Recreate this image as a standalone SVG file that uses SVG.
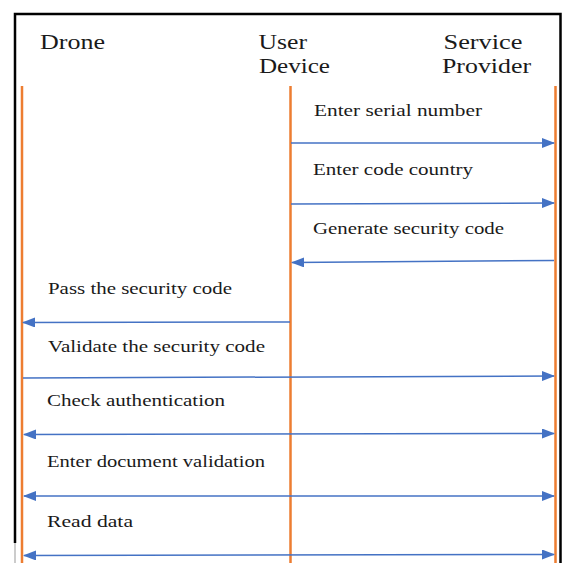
<svg xmlns="http://www.w3.org/2000/svg" width="563" height="563" viewBox="0 0 563 563">
<style>
.hdr{font-family:"Liberation Serif","Times New Roman",serif;font-size:20px;fill:#1a1a1a}
.lbl{font-family:"Liberation Serif","Times New Roman",serif;font-size:16px;fill:#1a1a1a}
.life{stroke:#ED7D31;stroke-width:2.5;fill:none}
.msg{stroke:#4472C4;stroke-width:1.5;fill:none}
</style>
<defs>
<marker id="ah" viewBox="0 0 13 10" refX="12" refY="5" markerWidth="13" markerHeight="10" orient="auto-start-reverse" markerUnits="userSpaceOnUse">
<path d="M0,0 L13,5 L0,10 Z" fill="#4472C4"/>
</marker>
</defs>
<rect width="563" height="563" fill="#ffffff"/>
<path d="M15,543 V14 H560.5 V563" fill="none" stroke="#000" stroke-width="2.5"/>
<line x1="15" y1="543" x2="15" y2="563" stroke="#999" stroke-width="1"/>

<g id="drone">
<text class="hdr" x="40" y="49" textLength="65" lengthAdjust="spacingAndGlyphs">Drone</text>
<line class="life" x1="22" y1="86" x2="22" y2="563"/>
</g>
<g id="user-device">
<text class="hdr" x="258.5" y="49" textLength="48.5" lengthAdjust="spacingAndGlyphs">User</text>
<text class="hdr" x="259" y="73" textLength="71" lengthAdjust="spacingAndGlyphs">Device</text>
<line class="life" x1="290.5" y1="86" x2="290.5" y2="563"/>
</g>
<g id="service-provider">
<text class="hdr" x="443.5" y="49" textLength="79" lengthAdjust="spacingAndGlyphs">Service</text>
<text class="hdr" x="442" y="73" textLength="89" lengthAdjust="spacingAndGlyphs">Provider</text>
<line class="life" x1="555.5" y1="86" x2="555.5" y2="563"/>
</g>

<g id="connectors">
<line class="msg" x1="291" y1="143" x2="554" y2="143" marker-end="url(#ah)"/>
<line class="msg" x1="291" y1="204" x2="554" y2="203" marker-end="url(#ah)"/>
<line class="msg" x1="554" y1="260.5" x2="292" y2="262.5" marker-end="url(#ah)"/>
<line class="msg" x1="290" y1="322" x2="23" y2="322.5" marker-end="url(#ah)"/>
<line class="msg" x1="23" y1="378" x2="554" y2="376" marker-end="url(#ah)"/>
<line class="msg" x1="24" y1="434.5" x2="554" y2="433.5" marker-start="url(#ah)" marker-end="url(#ah)"/>
<line class="msg" x1="24" y1="496" x2="554" y2="496" marker-start="url(#ah)" marker-end="url(#ah)"/>
<line class="msg" x1="24" y1="555.5" x2="554" y2="554.5" marker-start="url(#ah)" marker-end="url(#ah)"/>
</g>

<g id="labels">
<text class="lbl" x="314" y="115.5" textLength="168" lengthAdjust="spacingAndGlyphs">Enter serial number</text>
<text class="lbl" x="313" y="175" textLength="160" lengthAdjust="spacingAndGlyphs">Enter code country</text>
<text class="lbl" x="313" y="233.5" textLength="191" lengthAdjust="spacingAndGlyphs">Generate security code</text>
<text class="lbl" x="48" y="293.5" textLength="184" lengthAdjust="spacingAndGlyphs">Pass the security code</text>
<text class="lbl" x="48" y="352" textLength="217" lengthAdjust="spacingAndGlyphs">Validate the security code</text>
<text class="lbl" x="47" y="405.5" textLength="178" lengthAdjust="spacingAndGlyphs">Check authentication</text>
<text class="lbl" x="47" y="467" textLength="218" lengthAdjust="spacingAndGlyphs">Enter document validation</text>
<text class="lbl" x="47" y="526.5" textLength="86" lengthAdjust="spacingAndGlyphs">Read data</text>
</g>
</svg>
